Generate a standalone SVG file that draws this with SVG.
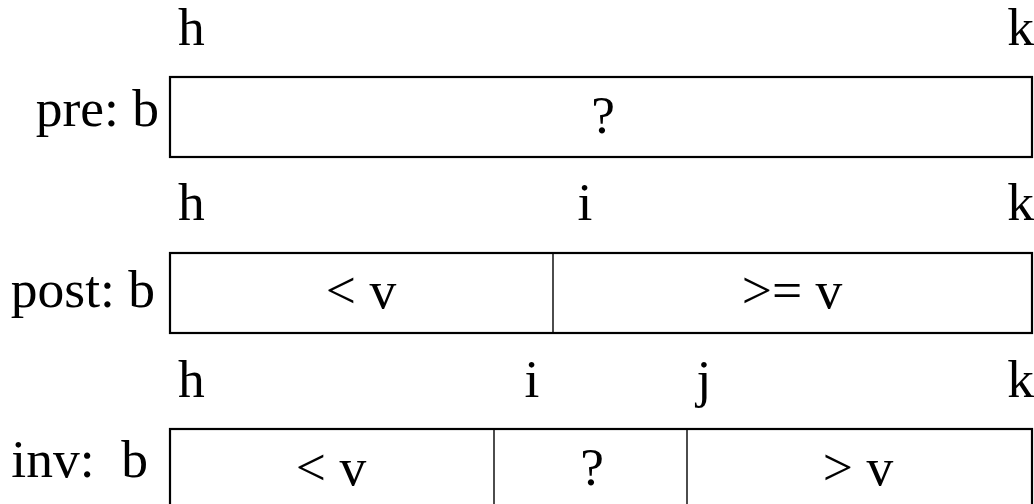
<svg xmlns="http://www.w3.org/2000/svg" width="1034" height="504" viewBox="0 0 1034 504">
<style>
text{font-family:"Liberation Serif","Times New Roman",serif;font-size:53.5px;fill:#000;white-space:pre}
.box{fill:#fff;stroke:#000;stroke-width:2.2}
.div{stroke:#000;stroke-width:1.4}
.c{text-anchor:middle}
.e{text-anchor:end}
</style>
<rect width="1034" height="504" fill="#fff"/>
<g id="pre">
<text x="178" y="45">h</text>
<text x="1034" y="45" class="e">k</text>
<text x="159" y="126" class="e">pre: b</text>
<rect class="box" x="170" y="77" width="862" height="80"/>
<text x="603" y="133" class="c">?</text>
</g>
<g id="post">
<text x="178" y="220">h</text>
<text x="585" y="220" class="c">i</text>
<text x="1034" y="220" class="e">k</text>
<text x="155" y="307" class="e">post: b</text>
<rect class="box" x="170" y="253" width="862" height="80"/>
<line class="div" x1="553" y1="253" x2="553" y2="333"/>
<text x="361" y="308" class="c">&lt; v</text>
<text x="792" y="308" class="c">&gt;= v</text>
</g>
<g id="inv">
<text x="178" y="397">h</text>
<text x="532" y="397" class="c">i</text>
<text x="704" y="397" class="c">j</text>
<text x="1034" y="397" class="e">k</text>
<text x="148" y="477" class="e" xml:space="preserve">inv:  b</text>
<rect class="box" x="170" y="429" width="862" height="80"/>
<line class="div" x1="494" y1="429" x2="494" y2="509"/>
<line class="div" x1="687" y1="429" x2="687" y2="509"/>
<text x="331" y="485" class="c">&lt; v</text>
<text x="592" y="485" class="c">?</text>
<text x="858" y="485" class="c">&gt; v</text>
</g>
<g id="connectors"></g>
</svg>
